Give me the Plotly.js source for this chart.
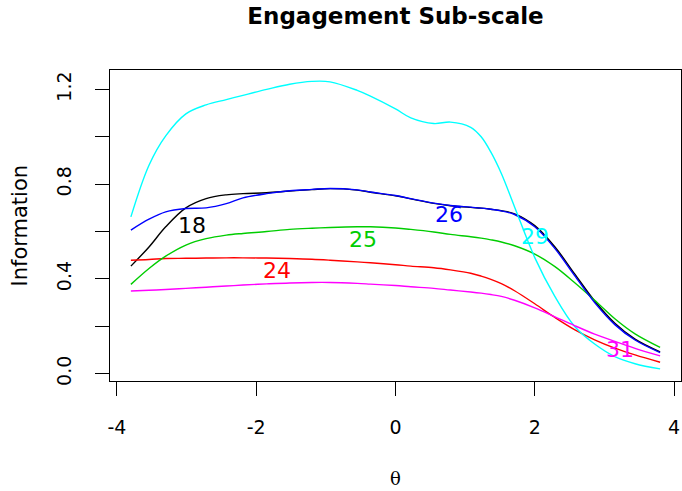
<!DOCTYPE html>
<html>
<head>
<meta charset="utf-8">
<script src="https://cdn.plot.ly/plotly-3.0.1.min.js"></script>
<style>html,body{margin:0;padding:0;background:#fff;}#chart{width:682px;height:491px;}</style>
</head>
<body>
<div id="chart"></div>
<script>
const theta = [-3.8, -3.54, -3.3, -3.01, -2.72, -2.43, -2.19, -1.85, -1.52, -1.2, -0.94, -0.55, -0.36, 0, 0.22, 0.55, 0.79, 1.08, 1.23, 1.37, 1.52, 1.71, 2.0, 2.29, 2.57, 2.86, 3.15, 3.44, 3.8];

const item18 = [0.454, 0.535, 0.62, 0.70, 0.739, 0.755, 0.76, 0.764, 0.771, 0.777, 0.781, 0.775, 0.766, 0.751, 0.738, 0.719, 0.709, 0.702, 0.699, 0.694, 0.688, 0.675, 0.625, 0.535, 0.422, 0.307, 0.213, 0.146, 0.092];
const item24 = [0.479, 0.482, 0.486, 0.487, 0.488, 0.489, 0.489, 0.488, 0.486, 0.483, 0.479, 0.472, 0.468, 0.46, 0.454, 0.447, 0.438, 0.424, 0.412, 0.398, 0.38, 0.35, 0.295, 0.237, 0.186, 0.143, 0.108, 0.079, 0.048];
const item25 = [0.377, 0.444, 0.496, 0.543, 0.57, 0.585, 0.592, 0.60, 0.609, 0.614, 0.617, 0.62, 0.62, 0.615, 0.609, 0.598, 0.588, 0.578, 0.572, 0.565, 0.556, 0.54, 0.505, 0.452, 0.385, 0.31, 0.232, 0.168, 0.111];
const item26 = [0.606, 0.652, 0.683, 0.697, 0.70, 0.718, 0.742, 0.76, 0.772, 0.778, 0.782, 0.776, 0.767, 0.752, 0.739, 0.72, 0.71, 0.703, 0.699, 0.694, 0.687, 0.672, 0.62, 0.528, 0.415, 0.30, 0.207, 0.142, 0.089];
const item29 = [0.662, 0.88, 1.004, 1.097, 1.135, 1.157, 1.175, 1.20, 1.222, 1.234, 1.232, 1.196, 1.172, 1.118, 1.08, 1.056, 1.062, 1.04, 1.0, 0.935, 0.845, 0.704, 0.49, 0.325, 0.20, 0.125, 0.072, 0.042, 0.02];
const item31 = [0.349, 0.352, 0.355, 0.36, 0.365, 0.37, 0.374, 0.379, 0.383, 0.385, 0.385, 0.381, 0.378, 0.372, 0.367, 0.36, 0.353, 0.345, 0.34, 0.334, 0.326, 0.31, 0.278, 0.24, 0.203, 0.167, 0.136, 0.107, 0.075];

const itemNames = ["18", "24", "25", "26", "29", "31"];
const itemColors = ["#000000", "#FF0000", "#00CD00", "#0000FF", "#00FFFF", "#FF00FF"];
const labelX = [-2.92, -1.70, -0.46, 0.77, 2.0, 3.22];
const labelY = [0.627, 0.437, 0.567, 0.673, 0.578, 0.10];

const xTicks = [-4, -2, 0, 2, 4];
const yTicks = [0, 0.2, 0.4, 0.6, 0.8, 1.0, 1.2];
const yTickText = ["0.0", "", "0.4", "", "0.8", "", "1.2"];

const series = [item18, item24, item25, item26, item29, item31];
const traces = series.map((vals, i) => ({
  x: theta, y: vals, type: 'scatter', mode: 'lines',
  line: {color: itemColors[i], width: 1.4, shape: 'spline', smoothing: 1},
  name: itemNames[i], hoverinfo: 'skip'
}));

const annotations = itemNames.map((n, i) => ({
  x: labelX[i], y: labelY[i], xref: 'x', yref: 'y', text: n, showarrow: false,
  font: {family: 'DejaVu Sans', size: 22, color: itemColors[i]},
  xanchor: 'center', yanchor: 'middle'
}));
annotations.push({
  x: 0.5, y: 0, xref: 'paper', yref: 'paper', text: 'θ', showarrow: false,
  xanchor: 'center', yanchor: 'bottom', yshift: -110,
  font: {family: 'DejaVu Serif', size: 18, color: '#000'}
});
annotations.push({
  x: 0, y: 0.5, xref: 'paper', yref: 'paper', text: 'Information', showarrow: false,
  xanchor: 'center', yanchor: 'middle', xshift: -91, textangle: -90,
  font: {family: 'DejaVu Sans', size: 21, color: '#000'}
});

const layout = {
  width: 682, height: 491,
  margin: {l: 110, r: 1, t: 70, b: 110},
  paper_bgcolor: '#fff', plot_bgcolor: '#fff',
  showlegend: false,
  title: {text: '<b>Engagement Sub-scale</b>', x: 0.5, xref: 'paper', y: 1 - 16/491, yref: 'container',
          xanchor: 'center', yanchor: 'middle',
          font: {family: 'DejaVu Sans', size: 23, color: '#000'}},
  xaxis: {range: [-4.1, 4.1], tickvals: xTicks, ticktext: xTicks.map(String),
          showline: true, mirror: true, linecolor: '#000', linewidth: 1,
          ticks: 'outside', ticklen: 14, tickcolor: '#000', tickwidth: 1,
          showgrid: false, zeroline: false, ticklabelstandoff: 15,
          tickfont: {family: 'DejaVu Sans', size: 19, color: '#000'}},
  yaxis: {range: [-0.031, 1.282], tickvals: yTicks, ticktext: yTickText, tickangle: -90,
          showline: true, mirror: true, linecolor: '#000', linewidth: 1,
          ticks: 'outside', ticklen: 14, tickcolor: '#000', tickwidth: 1,
          showgrid: false, zeroline: false, ticklabelstandoff: 16,
          tickfont: {family: 'DejaVu Sans', size: 19, color: '#000'}},
  annotations: annotations
};

Plotly.newPlot('chart', traces, layout, {displayModeBar: false, staticPlot: true});
</script>
</body>
</html>
